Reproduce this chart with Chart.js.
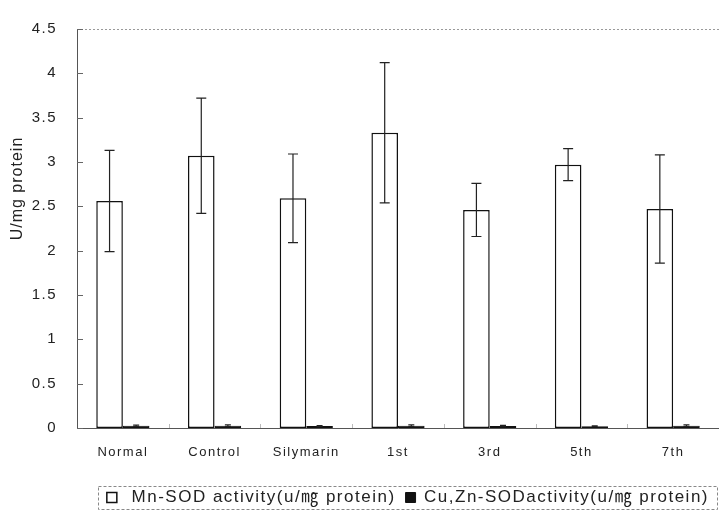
<!DOCTYPE html>
<html>
<head>
<meta charset="utf-8">
<script src="https://cdn.jsdelivr.net/npm/chart.js@4"></script>
<style>
  html, body { margin: 0; padding: 0; background: #fff; overflow: hidden; }
  #caixa { width: 719px; height: 516px; }
</style>
</head>
<body>
<div id="caixa"><canvas id="grafico"></canvas></div>
<script>
const grupos = ['Normal', 'Control', 'Silymarin', '1st', '3rd', '5th', '7th'];
const mnSod = [2.56, 3.07, 2.59, 3.33, 2.46, 2.97, 2.47];
const mnSodErro = [0.57, 0.65, 0.50, 0.79, 0.30, 0.18, 0.61];
const cuZnSod = [0.025, 0.025, 0.022, 0.025, 0.022, 0.02, 0.025];
const cuZnSodErro = [0.008, 0.01, 0.006, 0.01, 0.008, 0.005, 0.01];
const erros = [mnSodErro, cuZnSodErro];

const fonte = 'Liberation Sans, Arial, "Noto Sans CJK KR", sans-serif';

// espaçamento entre letras, como no gráfico original
const espacamento = {
  id: 'espacamento',
  beforeUpdate(chart) { chart.ctx.letterSpacing = '1.5px'; },
  beforeDraw(chart) { chart.ctx.letterSpacing = '1.5px'; }
};

const barrasErro = {
  id: 'barrasErro',
  afterDatasetsDraw(chart) {
    const ctx = chart.ctx;
    const y = chart.scales.y;
    ctx.save();
    ctx.strokeStyle = '#222';
    ctx.lineWidth = 1.2;
    chart.data.datasets.forEach((ds, i) => {
      const meta = chart.getDatasetMeta(i);
      meta.data.forEach((bar, j) => {
        const alto = y.getPixelForValue(ds.data[j] + erros[i][j]);
        const baixo = y.getPixelForValue(ds.data[j] - erros[i][j]);
        const cap = i === 0 ? 5 : 3;
        ctx.beginPath();
        ctx.moveTo(bar.x, alto); ctx.lineTo(bar.x, baixo);
        ctx.moveTo(bar.x - cap, alto); ctx.lineTo(bar.x + cap, alto);
        ctx.moveTo(bar.x - cap, baixo); ctx.lineTo(bar.x + cap, baixo);
        ctx.stroke();
      });
    });
    ctx.restore();
  }
};

const moldura = {
  id: 'moldura',
  afterDraw(chart) {
    const ctx = chart.ctx;
    const a = chart.chartArea;
    const y = chart.scales.y;
    const x = chart.scales.x;
    ctx.save();
    // linha superior pontilhada
    ctx.strokeStyle = '#999';
    ctx.lineWidth = 1;
    ctx.setLineDash([2, 2]);
    ctx.beginPath();
    ctx.moveTo(a.left, a.top + 0.5); ctx.lineTo(a.right, a.top + 0.5);
    ctx.stroke();
    ctx.setLineDash([]);
    // marcas para dentro no eixo y
    ctx.strokeStyle = '#666';
    y.ticks.forEach(t => {
      const py = Math.round(y.getPixelForValue(t.value)) + 0.5;
      ctx.beginPath();
      ctx.moveTo(a.left, py); ctx.lineTo(a.left + 6, py);
      ctx.stroke();
    });
    // marcas entre categorias no eixo x
    ctx.strokeStyle = '#bbb';
    for (let i = 1; i < grupos.length; i++) {
      const px = Math.round((x.getPixelForValue(i - 1) + x.getPixelForValue(i)) / 2) + 0.5;
      ctx.beginPath();
      ctx.moveTo(px, a.bottom); ctx.lineTo(px, a.bottom - 4);
      ctx.stroke();
    }
    // título do eixo y
    ctx.fillStyle = '#222';
    ctx.font = '16px ' + fonte;
    ctx.letterSpacing = '1px';
    ctx.translate(18, (a.top + a.bottom) / 2 - 40);
    ctx.rotate(-Math.PI / 2);
    ctx.textAlign = 'center';
    ctx.textBaseline = 'middle';
    ctx.fillText('U/mg protein', 0, 0);
    ctx.restore();

    // quadro pontilhado da legenda
    const caixas = chart.legend.legendHitBoxes;
    if (caixas && caixas.length) {
      const esq = Math.min(...caixas.map(c => c.left)) - 9;
      const dir = Math.min(Math.max(...caixas.map(c => c.left + c.width)) + 12, chart.width - 2);
      const topo = Math.min(...caixas.map(c => c.top)) - 3;
      const base = Math.max(...caixas.map(c => c.top + c.height)) + 3;
      ctx.save();
      ctx.strokeStyle = '#888';
      ctx.lineWidth = 1;
      ctx.setLineDash([3, 2]);
      ctx.strokeRect(Math.round(esq) + 0.5, Math.round(topo) + 0.5, Math.round(dir - esq), Math.round(base - topo));
      ctx.restore();
    }
  }
};

new Chart(document.getElementById('grafico'), {
  type: 'bar',
  data: {
    labels: grupos,
    datasets: [
      {
        label: ' Mn-SOD activity(u/㎎ protein)',
        data: mnSod,
        backgroundColor: '#ffffff',
        borderColor: '#111',
        borderWidth: 1.5,
        borderSkipped: false
      },
      {
        label: 'Cu,Zn-SODactivity(u/㎎ protein)',
        data: cuZnSod,
        backgroundColor: '#111',
        borderColor: '#111',
        borderWidth: 1,
        borderSkipped: false
      }
    ]
  },
  options: {
    responsive: true,
    maintainAspectRatio: false,
    animation: false,
    layout: { padding: { top: 13, right: 0, bottom: 0, left: 0 } },
    datasets: { bar: { categoryPercentage: 0.58, barPercentage: 1 } },
    plugins: {
      tooltip: { enabled: false },
      legend: {
        position: 'bottom',
        align: 'end',
        labels: {
          color: '#222',
          font: { family: fonte, size: 17 },
          boxWidth: 10,
          boxHeight: 10,
          padding: 10
        }
      }
    },
    scales: {
      x: {
        grid: { display: false, drawTicks: false },
        border: { display: true, color: '#555', dash: [2, 1] },
        ticks: { color: '#222', font: { family: fonte, size: 13 }, padding: 17, maxRotation: 0 },
        afterFit(scale) { scale.height = 51; }
      },
      y: {
        min: 0,
        max: 4.5,
        grid: { display: false, drawTicks: false },
        border: { display: true, color: '#555', dash: [2, 1] },
        ticks: {
          stepSize: 0.5,
          color: '#222',
          font: { family: fonte, size: 15 },
          padding: 20,
          callback: v => String(v)
        },
        afterFit(scale) { scale.width = 77; }
      }
    }
  },
  plugins: [espacamento, barrasErro, moldura]
});
</script>
</body>
</html>
